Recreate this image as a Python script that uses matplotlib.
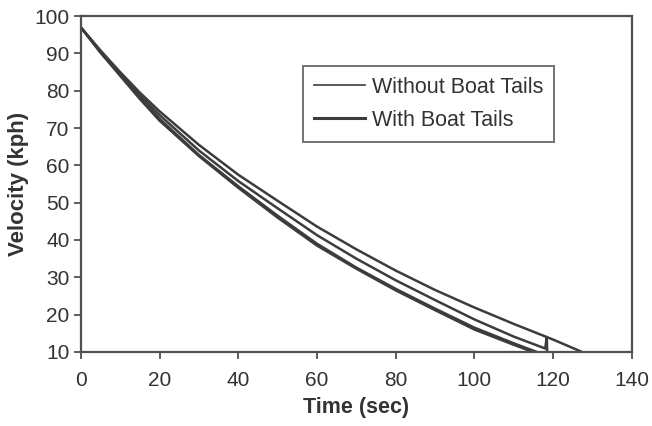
import matplotlib
matplotlib.use("Agg")
import matplotlib.pyplot as plt
from matplotlib.lines import Line2D

plt.rcParams['font.family'] = ['Liberation Sans', 'DejaVu Sans']

# coast-down runs (time in s, velocity in kph)
t_no1 = [0, 5, 10, 15, 20, 30, 40, 50, 60, 70, 80, 90, 100, 110, 114.8]
v_no1 = [97, 90.2, 84, 77.8, 72, 62.5, 54, 46, 38.5, 32.3, 26.5, 21.2, 16, 11.9, 10]

t_no2 = [0, 5, 10, 15, 20, 30, 40, 50, 60, 70, 80, 90, 100, 110, 115.8]
v_no2 = [97, 90.6, 84.3, 78.3, 72.5, 62.8, 54.4, 46.5, 39, 32.6, 26.9, 21.6, 16.5, 12.3, 10]

t_with1 = [0, 5, 10, 15, 20, 30, 40, 50, 60, 70, 80, 90, 100, 110, 118.0, 118.4, 118.5]
v_with1 = [97, 90.4, 84.5, 78.8, 73.5, 64, 55.8, 48.5, 41.3, 35, 29.2, 23.9, 18.7, 14.1, 10.9, 14.0, 10]

t_with2 = [0, 5, 10, 15, 20, 30, 40, 50, 60, 70, 80, 90, 100, 110, 120, 127.3]
v_with2 = [97, 90.8, 85, 79.5, 74.5, 65.5, 57.5, 50.5, 43.6, 37.5, 31.8, 26.6, 21.9, 17.5, 13.3, 10]

x_ticks = [0, 20, 40, 60, 80, 100, 120, 140]
y_ticks = [10, 20, 30, 40, 50, 60, 70, 80, 90, 100]

line_col = '#3c3c3c'
axis_col = '#505050'
text_col = '#333333'

fig = plt.figure(figsize=(6.52, 4.26), dpi=100)
ax = fig.add_axes([0.124, 0.174, 0.845, 0.788])

ax.plot(t_no1, v_no1, color=line_col, lw=1.8)
ax.plot(t_no2, v_no2, color=line_col, lw=1.8)
ax.plot(t_with1, v_with1, color=line_col, lw=1.8)
ax.plot(t_with2, v_with2, color=line_col, lw=1.8)

ax.set_xlim(0, 140)
ax.set_ylim(10, 100)
ax.set_xticks(x_ticks)
ax.set_yticks(y_ticks)
ax.tick_params(axis='both', direction='out', length=5, width=1.3, color=axis_col,
               labelsize=15, labelcolor=text_col)
ax.tick_params(axis='x', pad=9)
ax.tick_params(axis='y', pad=3)
for s in ax.spines.values():
    s.set_color(axis_col)
    s.set_linewidth(1.6)

ax.set_xlabel('Time (sec)', fontsize=15.5, fontweight='bold', color=text_col, labelpad=5)
ax.set_ylabel('Velocity (kph)', fontsize=16, fontweight='bold', color=text_col, labelpad=4)

handles = [Line2D([], [], color=line_col, lw=1.2),
           Line2D([], [], color=line_col, lw=2.2)]
leg = ax.legend(handles, ['Without Boat Tails', 'With Boat Tails'],
                loc='upper left', bbox_to_anchor=(0.403, 0.851), borderaxespad=0,
                fontsize=15.5, frameon=True, fancybox=False,
                handlelength=2.4, handletextpad=0.3, borderpad=0.5,
                labelspacing=0.55, labelcolor=text_col)
leg.get_frame().set_edgecolor(axis_col)
leg.get_frame().set_linewidth(1.4)

fig.savefig('out.png', dpi=100)
